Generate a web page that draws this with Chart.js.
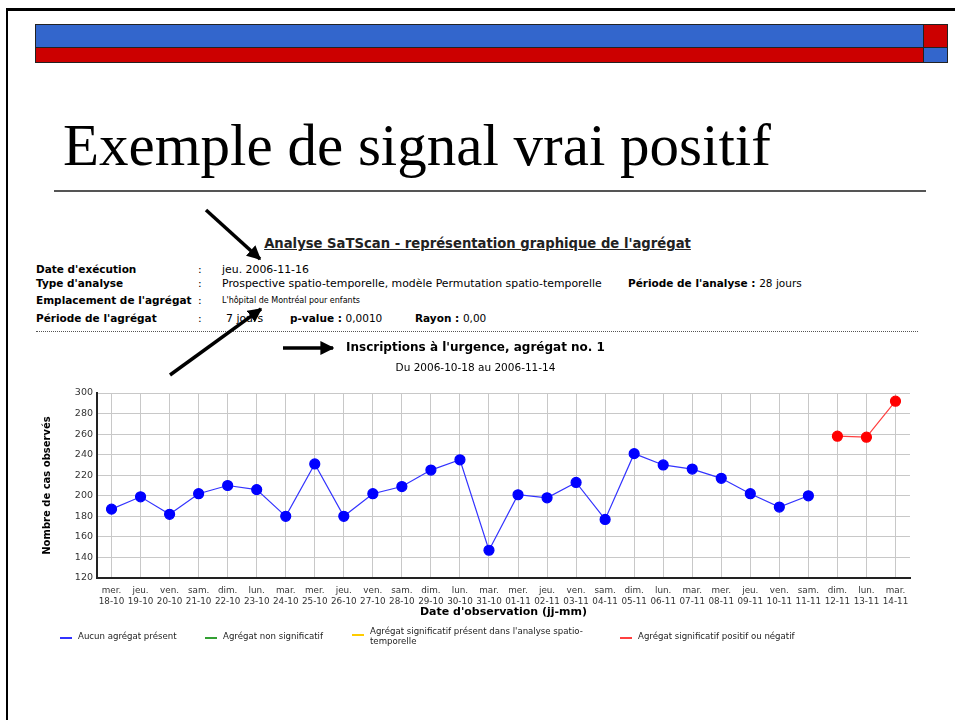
<!DOCTYPE html>
<html lang="fr">
<head>
<meta charset="utf-8">
<title>Exemple de signal vrai positif</title>
<script src="https://cdn.jsdelivr.net/npm/chart.js@4.4.1/dist/chart.umd.min.js"></script>
<style>
  html, body { margin: 0; padding: 0; background: #fff; }
  body { width: 955px; height: 720px; position: relative; overflow: hidden; font-family: "DejaVu Sans", Verdana, sans-serif; color: #000; }
  .abs { position: absolute; white-space: nowrap; }
  #frame { left: 6px; top: 8px; width: 960px; height: 720px; border-left: 2px solid #000; border-top: 3px solid #000; }
  .bar { position: absolute; box-sizing: border-box; border: 1px solid #222; }
  #slide-title { left: 63px; top: 113px; font-family: "Liberation Serif", "Times New Roman", serif; font-size: 59px; line-height: 64px; }
  #rule { left: 54px; top: 190px; width: 872px; height: 0; border-top: 2px solid #555; }
  #report-title { left: 0; width: 955px; text-align: center; top: 236px; font-size: 13.2px; font-weight: bold; text-decoration: underline; color: #222; }
  .lbl { font-size: 10.5px; font-weight: bold; }
  .val { font-size: 10.9px; }
  .small { font-size: 8px; }
  #dots { left: 36px; top: 331px; width: 882px; height: 0; border-top: 1px dotted #555; }
  #chart-box { left: 30px; top: 336px; width: 890px; height: 290px; }
  #legend { left: 0; top: 624px; width: 955px; height: 30px; font-size: 8.6px; color: #222; }
  #legend .item { position: absolute; display: flex; align-items: flex-start; }
  #legend .swatch { width: 12px; height: 1.5px; margin-top: 6px; margin-right: 6px; }
  svg { position: absolute; left: 0; top: 0; }
</style>
</head>
<body>
<div id="frame" class="abs"></div>
<div class="bar" style="left:35px;top:24px;width:889px;height:24px;background:#3366cc"></div>
<div class="bar" style="left:35px;top:47px;width:889px;height:16px;background:#cc0000"></div>
<div class="bar" style="left:923px;top:24px;width:25px;height:24px;background:#cc0000"></div>
<div class="bar" style="left:923px;top:47px;width:25px;height:16px;background:#3366cc"></div>

<div id="slide-title" class="abs">Exemple de signal vrai positif</div>
<div id="rule" class="abs"></div>

<div id="report-title" class="abs">Analyse SaTScan - représentation graphique de l'agrégat</div>

<div class="abs lbl" style="left:36px;top:263px">Date d'exécution</div>
<div class="abs val" style="left:198px;top:263px">:</div>
<div class="abs val" style="left:222px;top:263px">jeu. 2006-11-16</div>
<div class="abs lbl" style="left:36px;top:277px">Type d'analyse</div>
<div class="abs val" style="left:198px;top:277px">:</div>
<div class="abs val" style="left:222px;top:277px">Prospective spatio-temporelle, modèle Permutation spatio-temporelle</div>
<div class="abs lbl" style="left:628px;top:277px">Période de l'analyse : <span style="font-weight:normal">28 jours</span></div>
<div class="abs lbl" style="left:36px;top:294px">Emplacement de l'agrégat</div>
<div class="abs val" style="left:198px;top:294px">:</div>
<div class="abs small" style="left:222px;top:296px">L'hôpital de Montréal pour enfants</div>
<div class="abs lbl" style="left:36px;top:312px">Période de l'agrégat</div>
<div class="abs val" style="left:198px;top:312px">:</div>
<div class="abs val" style="left:226px;top:312px">7 jours</div>
<div class="abs lbl" style="left:290px;top:312px">p-value : <span style="font-weight:normal">0,0010</span></div>
<div class="abs lbl" style="left:415px;top:312px">Rayon : <span style="font-weight:normal">0,00</span></div>
<div id="dots" class="abs"></div>

<div id="chart-box" class="abs"><canvas id="chart"></canvas></div>
<div id="legend" class="abs"></div>

<svg width="955" height="720">
  <defs>
    <marker id="head" viewBox="0 0 10 10" refX="9" refY="5" markerWidth="4" markerHeight="4" orient="auto">
      <path d="M0,0 L10,5 L0,10 z" fill="#000"/>
    </marker>
  </defs>
  <line x1="206" y1="210" x2="260" y2="259" stroke="#000" stroke-width="3.5" marker-end="url(#head)"/>
  <line x1="170" y1="375" x2="261" y2="309" stroke="#000" stroke-width="3.5" marker-end="url(#head)"/>
  <line x1="283" y1="348" x2="333" y2="348" stroke="#000" stroke-width="3.5" marker-end="url(#head)"/>
</svg>

<script>
const days = ["mer.", "jeu.", "ven.", "sam.", "dim.", "lun.", "mar.",
  "mer.", "jeu.", "ven.", "sam.", "dim.", "lun.", "mar.",
  "mer.", "jeu.", "ven.", "sam.", "dim.", "lun.", "mar.",
  "mer.", "jeu.", "ven.", "sam.", "dim.", "lun.", "mar."];
const dates = ["18-10", "19-10", "20-10", "21-10", "22-10", "23-10", "24-10",
  "25-10", "26-10", "27-10", "28-10", "29-10", "30-10", "31-10",
  "01-11", "02-11", "03-11", "04-11", "05-11", "06-11", "07-11",
  "08-11", "09-11", "10-11", "11-11", "12-11", "13-11", "14-11"];

// nombre de cas observés, null = pas dans cette catégorie
const noCluster = [187, 199, 182, 202, 210, 206, 180, 231, 180, 202, 209, 225, 235, 147,
  201, 198, 213, 177, 241, 230, 226, 217, 202, 189, 200, null, null, null];
const notSignificant = new Array(28).fill(null);
const spatioTemporal = new Array(28).fill(null);
const significant = [null, null, null, null, null, null, null, null, null, null, null, null, null, null,
  null, null, null, null, null, null, null, null, null, null, null, 258, 257, 292];

const yTicks = [120, 140, 160, 180, 200, 220, 240, 260, 280, 300];

const series = [
  { label: "Aucun agrégat présent", data: noCluster, line: "#3333ff", point: "#0000ff", x: 60 },
  { label: "Agrégat non significatif", data: notSignificant, line: "#33a033", point: "#33a033", x: 205 },
  { label: ["Agrégat significatif présent dans l'analyse spatio-", "temporelle"], data: spatioTemporal, line: "#ffcc00", point: "#ffcc00", x: 352 },
  { label: "Agrégat significatif positif ou négatif", data: significant, line: "#ff4040", point: "#ff0000", x: 620 }
];

const legend = document.getElementById("legend");
for (const s of series) {
  const item = document.createElement("div");
  item.className = "item";
  item.style.left = s.x + "px";
  item.style.top = (Array.isArray(s.label) ? 2 : 7) + "px";
  const sw = document.createElement("span");
  sw.className = "swatch";
  sw.style.background = s.line;
  if (Array.isArray(s.label)) sw.style.marginTop = "8px";
  const txt = document.createElement("span");
  txt.innerHTML = Array.isArray(s.label) ? s.label.join("<br>") : s.label;
  txt.style.lineHeight = "10px";
  item.appendChild(sw);
  item.appendChild(txt);
  legend.appendChild(item);
}

Chart.defaults.font.family = '"DejaVu Sans", Verdana, sans-serif';
Chart.defaults.color = "#333";

new Chart(document.getElementById("chart"), {
  type: "line",
  data: {
    labels: days.map((d, i) => [d, dates[i]]),
    datasets: series.map((s) => ({
      label: Array.isArray(s.label) ? s.label.join(" ") : s.label,
      data: s.data,
      borderColor: s.line,
      backgroundColor: s.point,
      pointBackgroundColor: s.point,
      pointBorderColor: s.point,
      pointRadius: 5,
      borderWidth: 1.2,
      tension: 0,
      spanGaps: false
    }))
  },
  options: {
    responsive: true,
    maintainAspectRatio: false,
    animation: false,
    layout: { padding: { left: 11, right: 10, top: 0, bottom: 0 } },
    plugins: {
      legend: { display: false },
      tooltip: { enabled: false },
      title: {
        display: true,
        text: "Inscriptions à l'urgence, agrégat no. 1",
        color: "#000",
        font: { size: 12, weight: "bold" },
        padding: { top: 5, bottom: 6.5 }
      },
      subtitle: {
        display: true,
        text: "Du 2006-10-18 au 2006-11-14",
        color: "#000",
        font: { size: 10.5 },
        padding: { top: 0, bottom: 18.5 }
      }
    },
    scales: {
      x: {
        type: "category",
        offset: true,
        grid: { offset: false, color: "#c8c8c8", lineWidth: 1, drawTicks: false },
        border: { color: "#222", width: 2 },
        ticks: { autoSkip: false, maxRotation: 0, font: { size: 8.8, lineHeight: 1.25 }, padding: 7, color: "#333" },
        title: { display: true, text: "Date d'observation (jj-mm)", color: "#000", font: { size: 11, weight: "bold" }, padding: { top: 0, bottom: 7 } },
        afterFit: (scale) => { scale.height = 48; }
      },
      y: {
        min: 120,
        max: 300,
        afterBuildTicks: (scale) => { scale.ticks = yTicks.map((v) => ({ value: v })); },
        grid: { color: "#c8c8c8", lineWidth: 1, drawTicks: false },
        border: { color: "#222", width: 2 },
        ticks: { font: { size: 9.5 }, padding: 4, color: "#333" },
        title: { display: true, text: "Nombre de cas observés", color: "#000", font: { size: 10, weight: "bold" }, padding: { top: 0, bottom: 0 } },
        afterFit: (scale) => { scale.width = 56; }
      }
    }
  }
});
</script>
</body>
</html>
